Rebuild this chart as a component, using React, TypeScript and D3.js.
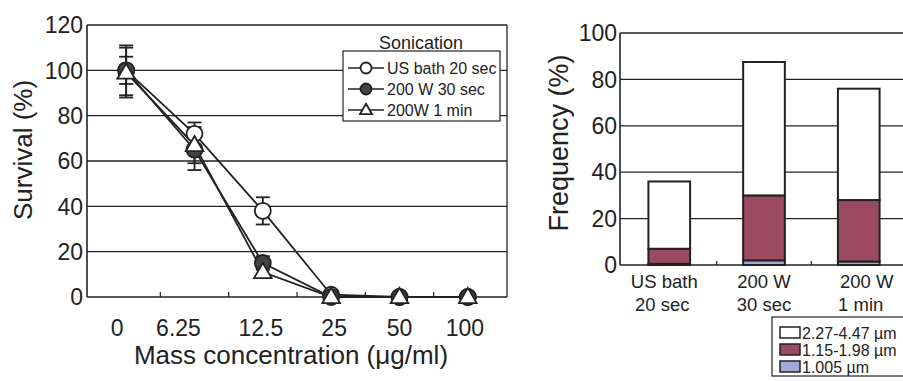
import React from 'react';
import * as d3 from 'd3';

const width = 903;
const height = 381;
const font = '"Liberation Sans", Arial, sans-serif';

// left panel: survival vs mass concentration
const concentrations = ['0', '6.25', '12.5', '25', '50', '100'];
const seriesNames = ['US bath 20 sec', '200 W 30 sec', '200W 1 min'];
const usBath = [100, 72, 38, 1, 0, 0];
const usBathErr = [6, 5, 6, 1, 0, 0];
const w200s30 = [100, 65, 15, 0, 0, 0];
const w200s30Err = [11, 9, 3, 0, 0, 0];
const w200m1 = [99, 67, 11, 0, 0, 0];
const w200m1Err = [11, 8, 2, 0, 0, 0];
const survivalTicks = [0, 20, 40, 60, 80, 100, 120];

// right panel: stacked frequency by size class
const treatments = [['US bath', '20 sec'], ['200 W', '30 sec'], ['200 W', '1 min']];
const sizeClasses = ['1.005 µm', '1.15-1.98 µm', '2.27-4.47 µm'];
const small = [0.5, 2, 1.5];
const medium = [6.5, 28, 26.5];
const large = [29, 57.5, 48];
const freqTicks = [0, 20, 40, 60, 80, 100];

const ink = '#222';
const classColors = ['#a4a9dc', '#9c4a62', '#ffffff'];

function Marker({ kind, x, y, r }: { kind: string; x: number; y: number; r: number }) {
  if (kind === 'triangle') {
    const h = r * 1.9;
    const p = `M${x},${y - h * 0.6} L${x + r * 1.1},${y + h * 0.4} L${x - r * 1.1},${y + h * 0.4} Z`;
    return <path d={p} fill="#fff" stroke={ink} strokeWidth={1.8} />;
  }
  return <circle cx={x} cy={y} r={r} fill={kind === 'filled' ? '#444' : '#fff'} stroke={ink} strokeWidth={1.8} />;
}

function SurvivalChart() {
  const left = 87, right = 507, top = 25, bottom = 297;
  const x = d3.scaleBand().domain(concentrations).range([92, 502]);
  const y = d3.scaleLinear().domain([0, 120]).range([bottom, top]);
  const cx = (c: string) => (x(c) as number) + x.bandwidth() / 2;
  const line = d3.line<number>().x((d, i) => cx(concentrations[i])).y(d => y(d));
  // the printed tick labels sit a little off their points
  const labelNudge = [-9, -16, -2, 3, 0, -3];

  const series = [
    { name: seriesNames[0], values: usBath, err: usBathErr, kind: 'open' },
    { name: seriesNames[1], values: w200s30, err: w200s30Err, kind: 'filled' },
    { name: seriesNames[2], values: w200m1, err: w200m1Err, kind: 'triangle' },
  ];

  return (
    <g fontFamily={font} fill={ink}>
      {survivalTicks.filter(t => t > 0).map(t => (
        <line key={t} x1={left} x2={right} y1={y(t)} y2={y(t)} stroke={ink} strokeWidth={1.3} />
      ))}
      <line x1={right} x2={right} y1={top} y2={bottom} stroke={ink} strokeWidth={1.3} />
      <line x1={left} x2={left} y1={top} y2={bottom} stroke={ink} strokeWidth={1.6} />
      <line x1={left} x2={right} y1={bottom} y2={bottom} stroke={ink} strokeWidth={1.6} />
      {concentrations.slice(1).map(c => (
        <line key={c} x1={x(c)} x2={x(c)} y1={bottom} y2={bottom - 5} stroke={ink} strokeWidth={1.2} />
      ))}
      {survivalTicks.map(t => (
        <text key={t} x={left - 4} y={y(t)} dy="0.36em" textAnchor="end" fontSize={23}>{t}</text>
      ))}
      {concentrations.map((c, i) => (
        <text key={c} x={cx(c) + labelNudge[i]} y={336} textAnchor="middle" fontSize={23}>{c}</text>
      ))}
      <text x={291} y={364} textAnchor="middle" fontSize={26}>Mass concentration (μg/ml)</text>
      <text transform="translate(32,150) rotate(-90)" textAnchor="middle" fontSize={26}>Survival (%)</text>

      {series.map(s => (
        <g key={s.name}>
          <path d={line(s.values) as string} fill="none" stroke={ink} strokeWidth={1.8} />
          {s.values.map((v, i) => s.err[i] > 1 ? (
            <g key={i} stroke={ink} strokeWidth={1.8}>
              <line x1={cx(concentrations[i])} x2={cx(concentrations[i])} y1={y(v - s.err[i])} y2={y(v + s.err[i])} />
              <line x1={cx(concentrations[i]) - 7} x2={cx(concentrations[i]) + 7} y1={y(v + s.err[i])} y2={y(v + s.err[i])} />
              <line x1={cx(concentrations[i]) - 7} x2={cx(concentrations[i]) + 7} y1={y(v - s.err[i])} y2={y(v - s.err[i])} />
            </g>
          ) : null)}
        </g>
      ))}
      {series.map(s => s.values.map((v, i) => (
        <Marker key={s.name + i} kind={s.kind} x={cx(concentrations[i])} y={y(v)} r={8} />
      )))}

      <text x={421} y={49} textAnchor="middle" fontSize={18}>Sonication</text>
      <rect x={343} y={51} width={157} height={70} fill="#fff" stroke={ink} strokeWidth={1.2} />
      {series.map((s, i) => (
        <g key={s.name}>
          <line x1={348} x2={384} y1={68 + i * 21} y2={68 + i * 21} stroke={ink} strokeWidth={1.5} />
          <Marker kind={s.kind} x={366} y={68 + i * 21} r={5.5} />
          <text x={387} y={68 + i * 21} dy="0.35em" fontSize={16}>{s.name}</text>
        </g>
      ))}
    </g>
  );
}

function FrequencyChart() {
  const left = 620, right = 903, top = 33, bottom = 265;
  const labels = treatments.map(t => t.join(' '));
  const x = d3.scaleBand().domain(labels).range([620, 908]).paddingInner(0.56).paddingOuter(0.3);
  const y = d3.scaleLinear().domain([0, 100]).range([bottom, top]);
  const rows = labels.map((l, i) => ({ label: l, small: small[i], medium: medium[i], large: large[i] }));
  const stack = d3.stack<any>().keys(['small', 'medium', 'large'])(rows);
  const mid = (i: number) => (x(labels[i]) as number) + x.bandwidth() / 2;

  return (
    <g fontFamily={font} fill={ink}>
      {freqTicks.filter(t => t > 0).map(t => (
        <line key={t} x1={left} x2={right} y1={y(t)} y2={y(t)} stroke={ink} strokeWidth={1.3} />
      ))}
      <line x1={left} x2={left} y1={top} y2={bottom} stroke={ink} strokeWidth={1.6} />
      <line x1={left} x2={right} y1={bottom} y2={bottom} stroke={ink} strokeWidth={1.6} />
      {labels.slice(1).map(l => (
        <line key={l} x1={(x(l) as number) - x.step() * x.paddingInner() / 2}
          x2={(x(l) as number) - x.step() * x.paddingInner() / 2} y1={bottom} y2={bottom - 4} stroke={ink} strokeWidth={1.2} />
      ))}
      {freqTicks.map(t => (
        <text key={t} x={left - 3} y={y(t)} dy="0.36em" textAnchor="end" fontSize={23}>{t}</text>
      ))}
      <text transform="translate(568,143) rotate(-90)" textAnchor="middle" fontSize={27}>Frequency (%)</text>

      {stack.map((layer, k) => layer.map((d, i) => (
        <rect key={k + '-' + i} x={x(labels[i])} width={x.bandwidth()} y={y(d[1])} height={y(d[0]) - y(d[1])}
          fill={classColors[k]} stroke={ink} strokeWidth={2} />
      )))}

      {treatments.map((t, i) => (
        <text key={i} textAnchor="middle" fontSize={18.5}>
          <tspan x={mid(i) + (i === 2 ? 8 : 0) - (i === 0 ? 5 : 0)} y={288}>{t[0]}</tspan>
          <tspan x={mid(i) - (i === 0 ? 7 : 0) + (i === 2 ? 2 : 0)} y={311}>{t[1]}</tspan>
        </text>
      ))}

      <rect x={772} y={317} width={140} height={59} fill="#fff" stroke={ink} strokeWidth={1.2} />
      {[2, 1, 0].map((k, j) => (
        <g key={k}>
          <rect x={780} y={327 + j * 17} width={20} height={11} fill={classColors[k]} stroke={ink} strokeWidth={1.5} />
          <text x={802} y={333 + j * 17} dy="0.35em" fontSize={16}>{sizeClasses[k]}</text>
        </g>
      ))}
    </g>
  );
}

export default function App() {
  return (
    <svg width={width} height={height} style={{ position: 'absolute', left: 0, top: 0, background: '#fff' }}>
      <rect width={width} height={height} fill="#fff" />
      <SurvivalChart />
      <FrequencyChart />
    </svg>
  );
}
